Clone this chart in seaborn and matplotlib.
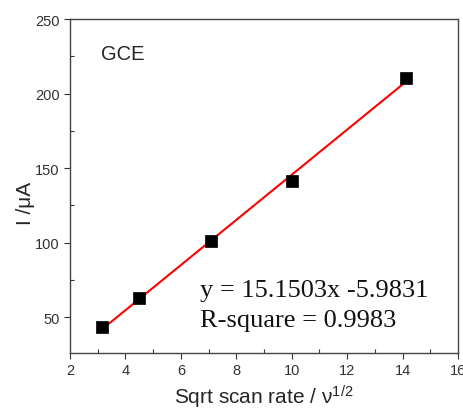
import seaborn as sns
import pandas as pd
import matplotlib.pyplot as plt
import numpy as np
from matplotlib.ticker import MultipleLocator

# -----------------------------------------------------------------------------
# Data
# -----------------------------------------------------------------------------

sqrt_scan_rate = [3.16, 4.47, 7.07, 10.0, 14.14]
current_uA = [43.1, 62.5, 101.0, 141.3, 210.5]

# linear fit reported on the chart
slope = 15.1503
intercept = -5.9831
r_square = 0.9983

df = pd.DataFrame({"x": sqrt_scan_rate, "y": current_uA})
df["fit"] = slope * df["x"] + intercept

# -----------------------------------------------------------------------------
# Plot
# -----------------------------------------------------------------------------

sns.set_style("ticks")
plt.rcParams["font.family"] = ["Liberation Sans", "DejaVu Sans"]

fig = plt.figure(figsize=(4.64, 4.10), dpi=100)
ax = fig.add_axes([0.151, 0.137, 0.836, 0.814])

sns.lineplot(data=df, x="x", y="fit", color="red", linewidth=1.5, ax=ax)
sns.scatterplot(data=df, x="x", y="y", marker="s", s=85, color="black",
                edgecolor="black", linewidth=0.5, zorder=3, ax=ax)

ax.set_xlim(2, 16)
ax.set_ylim(26, 250)
ax.xaxis.set_major_locator(MultipleLocator(2))
ax.xaxis.set_minor_locator(MultipleLocator(1))
ax.yaxis.set_major_locator(MultipleLocator(50))
ax.yaxis.set_minor_locator(MultipleLocator(25))
ax.tick_params(which="major", direction="out", length=4, width=0.8,
               labelsize=10.5, colors="#333333", top=False, right=False)
ax.tick_params(which="minor", direction="in", length=3, width=0.8,
               top=False, right=False, colors="#333333")

for sp in ax.spines.values():
    sp.set_color("#444444")
    sp.set_linewidth(1.0)

ax.set_xlabel("Sqrt scan rate / $\\mathregular{\\nu^{1/2}}$", fontsize=15)
ax.set_ylabel("I /\u03bcA", fontsize=15)
ax.xaxis.set_label_coords(0.5, -0.09)
ax.yaxis.set_label_coords(-0.09, 0.45)

ax.text(3.1, 223, "GCE", fontsize=14.5, va="baseline")
ax.text(6.7, 64, f"y = {slope}x {intercept}", fontsize=19,
        family="Liberation Serif", va="baseline", color="#111111")
ax.text(6.7, 44, f"R-square = {r_square}", fontsize=19,
        family="Liberation Serif", va="baseline", color="#111111")

fig.savefig("out.png", dpi=100)
